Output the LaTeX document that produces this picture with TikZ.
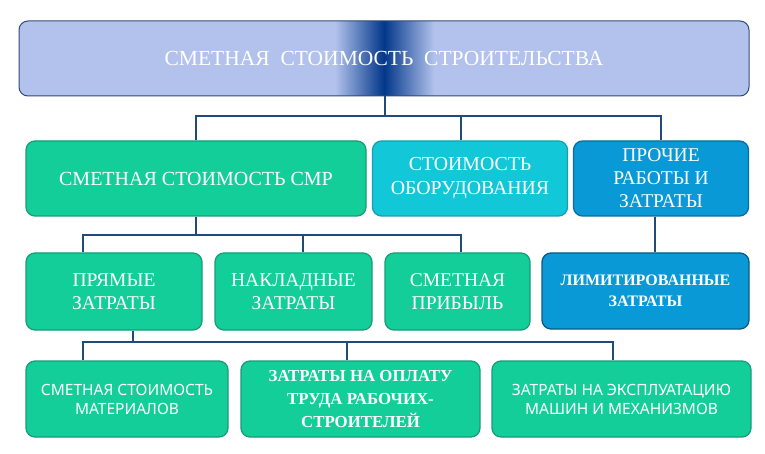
\documentclass[tikz,border=0pt]{standalone}
\usepackage{fontspec}
\setmainfont{Liberation Serif}
\newfontfamily\thinsans{Noto Sans}
\usetikzlibrary{positioning}
\definecolor{gfill}{HTML}{14CE99}
\definecolor{gdraw}{HTML}{1A9C7A}
\definecolor{cfill}{HTML}{12C8D8}
\definecolor{cdraw}{HTML}{179FB0}
\definecolor{bfill}{HTML}{0899D6}
\definecolor{bdraw}{HTML}{0B6C9E}
\definecolor{tfill}{HTML}{B2C2EC}
\definecolor{tdraw}{HTML}{2E4C78}
\definecolor{tdark}{HTML}{02378A}
\definecolor{wire}{HTML}{1F4A7A}
\tikzset{
  basebox/.style={rounded corners=9pt, line width=1.3pt, text=white, align=center, inner sep=0pt},
  gbox/.style={basebox, fill=gfill, draw=gdraw},
  cbox/.style={basebox, fill=cfill, draw=cdraw},
  bbox/.style={basebox, fill=bfill, draw=bdraw},
  wireline/.style={draw=wire, line width=1.8pt},
}
\begin{document}
\begin{tikzpicture}[x=1pt,y=-1pt]
\useasboundingbox (0,0) rectangle (765,454);
\fill[white] (0,0) rectangle (765,454);
% top box
\begin{scope}
\clip[rounded corners=9pt] (19,21) rectangle (749,96);
\fill[tfill] (19,21) rectangle (749,96);
\shade[left color=tfill, right color=tdark] (335,21) rectangle (384,96);
\shade[left color=tdark, right color=tfill] (384,21) rectangle (434,96);
\end{scope}
\node[basebox, draw=tdraw, line width=1pt, minimum width=730pt, minimum height=75pt, font=\fontsize{21.5}{24}\selectfont] (top) at (384,58.5) {СМЕТНАЯ\ \ СТОИМОСТЬ\ \ СТРОИТЕЛЬСТВА};
% row 2
\node[gbox, minimum width=340pt, minimum height=75pt, font=\fontsize{20}{24}\selectfont] (smr) at (196,178.5) {СМЕТНАЯ СТОИМОСТЬ СМР};
\node[cbox, minimum width=195pt, minimum height=75pt, font=\fontsize{19.8}{24}\selectfont] (equip) at (470,178.5) {СТОИМОСТЬ\\ОБОРУДОВАНИЯ};
\node[bbox, minimum width=175pt, minimum height=75pt, font=\fontsize{19.5}{23}\selectfont] (other) at (661,178.5) {ПРОЧИЕ\\РАБОТЫ И\\ЗАТРАТЫ};
% row 3
\node[gbox, minimum width=176pt, minimum height=77pt, font=\fontsize{19.5}{23}\selectfont] (direct) at (114,291.5) {ПРЯМЫЕ\\ЗАТРАТЫ};
\node[gbox, minimum width=157pt, minimum height=77pt, font=\fontsize{19.5}{23}\selectfont] (overhead) at (293.5,291.5) {НАКЛАДНЫЕ\\ЗАТРАТЫ};
\node[gbox, minimum width=145pt, minimum height=77pt, font=\fontsize{19.5}{23}\selectfont] (profit) at (457.5,291.5) {СМЕТНАЯ\\ПРИБЫЛЬ};
\node[bbox, draw=bdraw!85!black, minimum width=207pt, minimum height=76pt, font=\bfseries\fontsize{16}{21}\selectfont] (limit) at (645.5,291) {ЛИМИТИРОВАННЫЕ\\ЗАТРАТЫ};
% row 4
\node[gbox, minimum width=202pt, minimum height=76pt, font=\thinsans\fontsize{15.5}{19}\selectfont] (mat) at (127,399) {СМЕТНАЯ СТОИМОСТЬ\\МАТЕРИАЛОВ};
\node[gbox, minimum width=239pt, minimum height=76pt, font=\bfseries\fontsize{16.8}{23}\selectfont] (labor) at (360.5,399) {ЗАТРАТЫ НА ОПЛАТУ\\ТРУДА РАБОЧИХ-\\СТРОИТЕЛЕЙ};
\node[gbox, minimum width=259pt, minimum height=76pt, font=\thinsans\fontsize{15.5}{19}\selectfont] (mach) at (621.5,399) {ЗАТРАТЫ НА ЭКСПЛУАТАЦИЮ\\МАШИН И МЕХАНИЗМОВ};
% connectors
\coordinate (j1) at (385,116);
\draw[wireline] (top.south -| j1) -- (j1);
\draw[wireline] (smr.north) -- (smr.north |- j1) -- (other.north |- j1) -- (other.north);
\draw[wireline] (equip.north -| 461,0) -- (461,116);
\coordinate (j2) at (196,235);
\draw[wireline] (smr.south) -- (j2);
\draw[wireline] (direct.north -| 83,0) -- (83,235) -- (461,235) -- (profit.north -| 461,0);
\draw[wireline] (overhead.north -| 303,0) -- (303,235);
\draw[wireline] (other.south -| 655,0) -- (limit.north -| 655,0);
\coordinate (j3) at (133,342);
\draw[wireline] (direct.south -| j3) -- (j3);
\draw[wireline] (mat.north -| 83,0) -- (83,342) -- (613,342) -- (mach.north -| 613,0);
\draw[wireline] (labor.north -| 347,0) -- (347,342);
\end{tikzpicture}
\end{document}
